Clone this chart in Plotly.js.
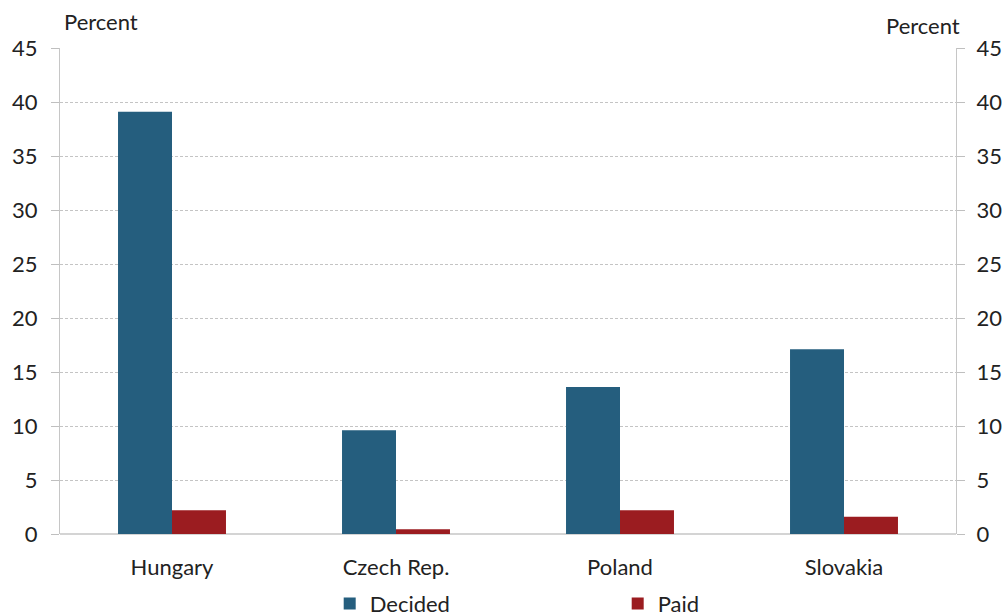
<!DOCTYPE html>
<html><head><meta charset="utf-8">
<script src="https://cdn.plot.ly/plotly-3.0.1.min.js"></script>
<style>body{margin:0}</style></head>
<body><div id="chart" style="width:1006px;height:616px"></div>
<script>
const categories = ["Hungary", "Czech Rep.", "Poland", "Slovakia"];
const decided = [39.1, 9.6, 13.6, 17.1];
const paid = [2.2, 0.45, 2.2, 1.6];
const yTicks = [0, 5, 10, 15, 20, 25, 30, 35, 40, 45];

const font = {family: "Lato, 'Open Sans', sans-serif", size: 22, color: "#222"};
const data = [
  {type: "bar", name: "Decided", x: categories, y: decided, marker: {color: "#255e7e"}},
  {type: "bar", name: "Paid", x: categories, y: paid, marker: {color: "#9b1c20"}},
  {type: "scatter", mode: "none", x: categories, y: decided, yaxis: "y2", showlegend: false, hoverinfo: "skip"}
];
const yCommon = {
  range: [0, 45], tickvals: yTicks, ticktext: yTicks.map(String),
  ticks: "outside", ticklen: 8, tickcolor: "#bfbfbf", showline: true, linecolor: "#c6c6c6",
  tickfont: font, fixedrange: true, automargin: false
};
const layout = {
  width: 1006, height: 616,
  margin: {l: 60, r: 50, t: 48, b: 82},
  paper_bgcolor: "#fff", plot_bgcolor: "#fff",
  font: font,
  barmode: "group", bargap: 0.518, bargroupgap: 0,
  showlegend: true,
  legend: {orientation: "h", x: 0.301, xanchor: "left", yref: "container", y: 0.02, yanchor: "middle",
           entrywidth: 243, font: font, traceorder: "normal"},
  xaxis: {tickfont: font, ticks: "", showline: false, ticklabelstandoff: 18, automargin: false},
  yaxis: Object.assign({}, yCommon, {
    ticklabelstandoff: 9,
    showgrid: true, gridcolor: "#c4c4c4", griddash: "3px,2px", gridwidth: 1,
    zeroline: true, zerolinecolor: "#d4d4d4", zerolinewidth: 2
  }),
  yaxis2: Object.assign({}, yCommon, {overlaying: "y", side: "right", ticklabelstandoff: 7, showgrid: false, zeroline: false}),
  annotations: [
    {text: "Percent", xref: "paper", yref: "paper", x: 0.002, y: 1.0535, xanchor: "left", yanchor: "middle", showarrow: false, font: font},
    {text: "Percent", xref: "paper", yref: "paper", x: 1.007, y: 1.0453, xanchor: "right", yanchor: "middle", showarrow: false, font: font}
  ]
};
Plotly.newPlot("chart", data, layout, {displayModeBar: false, staticPlot: true});
</script></body></html>
